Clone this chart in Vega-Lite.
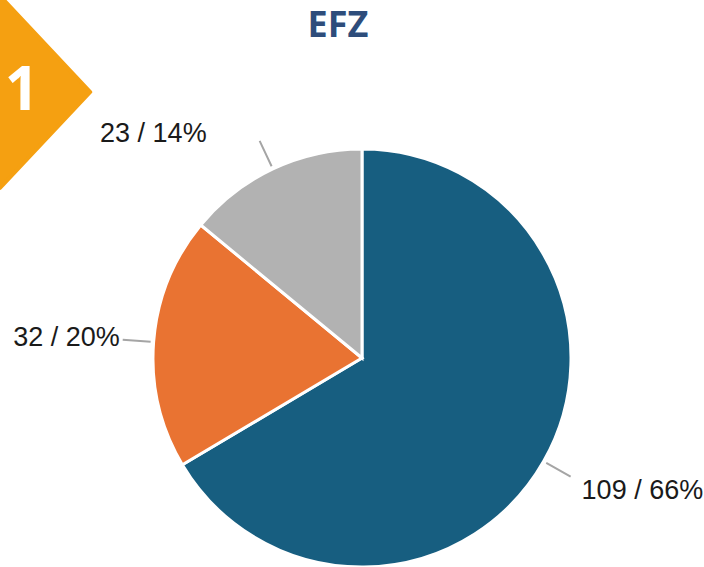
{
  "$schema": "https://vega.github.io/schema/vega-lite/v6.json",
  "width": 684,
  "height": 418,
  "autosize": "none",
  "padding": {"left": 20, "top": 149, "right": 0, "bottom": 0},
  "background": "#ffffff",
  "config": {"view": {"stroke": null}},
  "title": {
    "text": "EFZ",
    "font": "Open Sans",
    "fontSize": 36,
    "fontWeight": "bold",
    "color": "#2e4d7b",
    "anchor": "middle",
    "frame": "group",
    "baseline": "alphabetic",
    "offset": 0,
    "dx": -24,
    "dy": 79
  },
  "data": {
    "values": [
      {"kategorie": "Kategorie 1", "anzahl": 109, "mitte": 54.5, "rang": 1, "beschriftung": "109 / 66%"},
      {"kategorie": "Kategorie 2", "anzahl": 32, "mitte": 125, "rang": 2, "beschriftung": "32 / 20%"},
      {"kategorie": "Kategorie 3", "anzahl": 23, "mitte": 152.5, "rang": 3, "beschriftung": "23 / 14%"}
    ]
  },
  "layer": [
    {
      "mark": {"type": "arc", "outerRadius": 209, "stroke": "#ffffff", "strokeWidth": 3},
      "encoding": {
        "theta": {"field": "anzahl", "type": "quantitative", "stack": true, "scale": {"domain": [0, 164]}},
        "order": {"field": "rang", "type": "quantitative"},
        "color": {
          "field": "kategorie",
          "type": "nominal",
          "scale": {"domain": ["Kategorie 1", "Kategorie 2", "Kategorie 3"], "range": ["#175e80", "#e97332", "#b2b2b2"]},
          "legend": null
        }
      }
    },
    {
      "mark": {"type": "arc", "innerRadius": 212, "outerRadius": 240, "stroke": "#a5a5a5", "strokeWidth": 2, "fill": null},
      "encoding": {
        "theta": {"field": "mitte", "type": "quantitative", "stack": null},
        "theta2": {"field": "mitte"}
      }
    },
    {
      "transform": [{"filter": {"field": "rang", "equal": 1}}],
      "mark": {"type": "text", "radius": 240, "align": "left", "baseline": "alphabetic", "dx": 11, "dy": 22, "font": "Liberation Sans", "fontSize": 27, "color": "#1a1a1a"},
      "encoding": {
        "theta": {"field": "mitte", "type": "quantitative", "stack": null},
        "text": {"field": "beschriftung"}
      }
    },
    {
      "transform": [{"filter": {"field": "rang", "equal": 2}}],
      "mark": {"type": "text", "radius": 240, "align": "right", "baseline": "alphabetic", "dx": -3, "dy": 6, "font": "Liberation Sans", "fontSize": 27, "color": "#1a1a1a"},
      "encoding": {
        "theta": {"field": "mitte", "type": "quantitative", "stack": null},
        "text": {"field": "beschriftung"}
      }
    },
    {
      "transform": [{"filter": {"field": "rang", "equal": 3}}],
      "mark": {"type": "text", "radius": 240, "align": "right", "baseline": "alphabetic", "dx": -53, "dy": 1, "font": "Liberation Sans", "fontSize": 27, "color": "#1a1a1a"},
      "encoding": {
        "theta": {"field": "mitte", "type": "quantitative", "stack": null},
        "text": {"field": "beschriftung"}
      }
    },
    {
      "data": {"values": [{"nummer": "1"}]},
      "mark": {"type": "point", "shape": "M 0 -1 L 0.94 0 L 0 1 Z", "size": 36864, "filled": true, "color": "#f5a011", "stroke": "#f5a011", "strokeWidth": 4, "strokeJoin": "round", "opacity": 1},
      "encoding": {"x": {"value": -20}, "y": {"value": -57}}
    },
    {
      "data": {"values": [{"nummer": "1"}]},
      "mark": {"type": "text", "font": "Open Sans", "fontSize": 60, "fontWeight": "bold", "color": "#ffffff", "align": "center", "baseline": "alphabetic"},
      "encoding": {"x": {"value": 2}, "y": {"value": -39}, "text": {"field": "nummer"}}
    }
  ]
}
